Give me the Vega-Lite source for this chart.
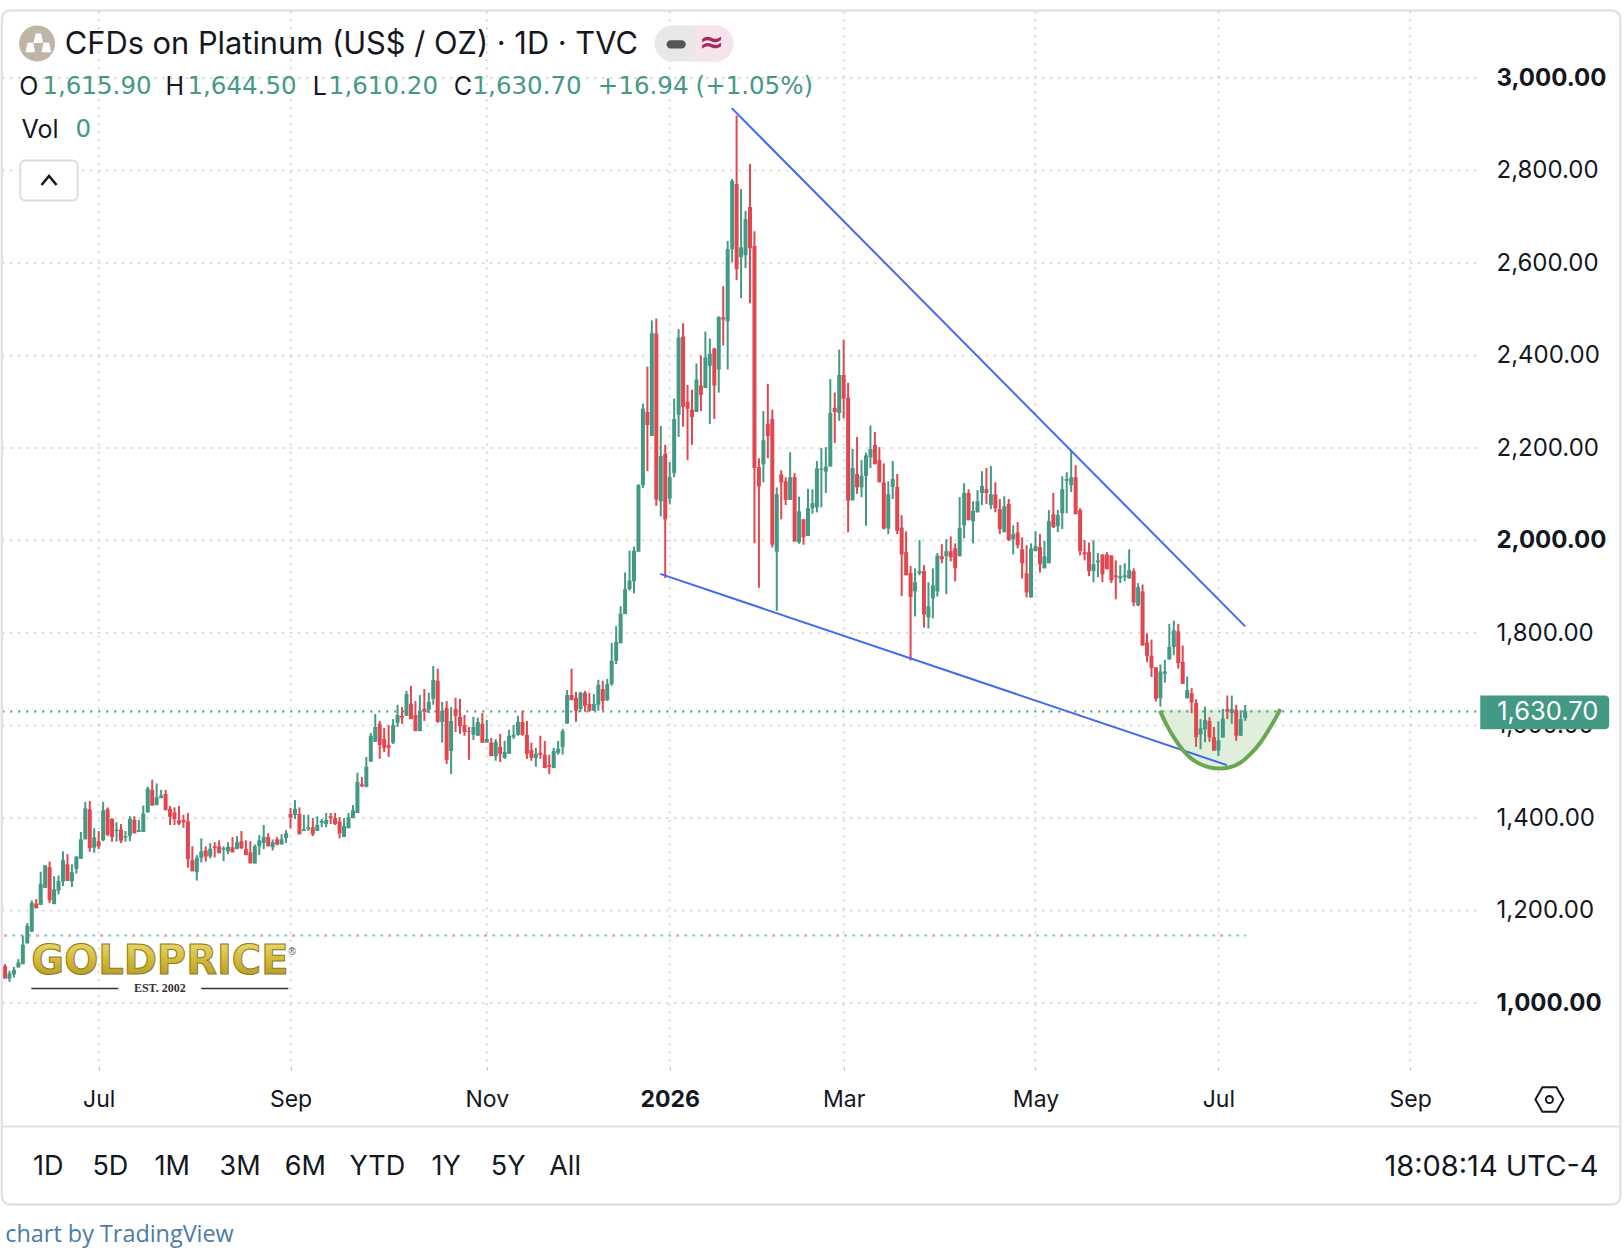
{
  "$schema": "https://vega.github.io/schema/vega-lite/v6.json",
  "width": 1624,
  "height": 1254,
  "autosize": "none",
  "padding": 0,
  "background": "white",
  "config": {"view": {"stroke": null}, "axis": {"grid": false, "title": null}},
  "datasets": {
    "ohlc": [
      {"n":0,"o":1080,"h":1084,"l":1053,"c":1053},{"n":1,"o":1053,"h":1070,"l":1046,"c":1064},{"n":2,"o":1062,"h":1078,"l":1055,"c":1072},{"n":3,"o":1077,"h":1095,"l":1077,"c":1088},
      {"n":4,"o":1084,"h":1146,"l":1084,"c":1126},{"n":5,"o":1129,"h":1173,"l":1129,"c":1167},{"n":6,"o":1154,"h":1222,"l":1154,"c":1217},{"n":7,"o":1215,"h":1225,"l":1205,"c":1205},
      {"n":8,"o":1212,"h":1284,"l":1212,"c":1258},{"n":9,"o":1249,"h":1298,"l":1249,"c":1298},{"n":10,"o":1294,"h":1306,"l":1216,"c":1222},{"n":11,"o":1214,"h":1274,"l":1214,"c":1246},
      {"n":12,"o":1243,"h":1276,"l":1235,"c":1264},{"n":13,"o":1263,"h":1328,"l":1253,"c":1309},{"n":14,"o":1300,"h":1322,"l":1264,"c":1264},{"n":15,"o":1263,"h":1300,"l":1251,"c":1283},
      {"n":16,"o":1290,"h":1317,"l":1280,"c":1317},{"n":17,"o":1312,"h":1370,"l":1312,"c":1354},{"n":18,"o":1354,"h":1435,"l":1354,"c":1421},{"n":19,"o":1419,"h":1437,"l":1327,"c":1335},
      {"n":20,"o":1336,"h":1378,"l":1325,"c":1358},{"n":21,"o":1350,"h":1372,"l":1333,"c":1339},{"n":22,"o":1352,"h":1435,"l":1350,"c":1417},{"n":23,"o":1419,"h":1423,"l":1361,"c":1364},
      {"n":24,"o":1398,"h":1400,"l":1349,"c":1359},{"n":25,"o":1372,"h":1391,"l":1349,"c":1375},{"n":26,"o":1375,"h":1387,"l":1346,"c":1351},{"n":27,"o":1358,"h":1372,"l":1349,"c":1361},
      {"n":28,"o":1361,"h":1404,"l":1350,"c":1398},{"n":29,"o":1396,"h":1404,"l":1367,"c":1367},{"n":30,"o":1370,"h":1396,"l":1370,"c":1374},{"n":31,"o":1370,"h":1427,"l":1370,"c":1410},
      {"n":32,"o":1412,"h":1468,"l":1412,"c":1464},{"n":33,"o":1461,"h":1483,"l":1427,"c":1427},{"n":34,"o":1428,"h":1475,"l":1428,"c":1445},{"n":35,"o":1443,"h":1461,"l":1443,"c":1449},
      {"n":36,"o":1452,"h":1461,"l":1417,"c":1417},{"n":37,"o":1420,"h":1426,"l":1385,"c":1403},{"n":38,"o":1412,"h":1423,"l":1385,"c":1398},{"n":39,"o":1395,"h":1426,"l":1385,"c":1388},
      {"n":40,"o":1396,"h":1407,"l":1379,"c":1391},{"n":41,"o":1393,"h":1411,"l":1293,"c":1311},{"n":42,"o":1309,"h":1339,"l":1285,"c":1285},{"n":43,"o":1283,"h":1320,"l":1265,"c":1314},
      {"n":44,"o":1314,"h":1356,"l":1304,"c":1328},{"n":45,"o":1330,"h":1339,"l":1306,"c":1317},{"n":46,"o":1317,"h":1346,"l":1313,"c":1334},{"n":47,"o":1339,"h":1348,"l":1315,"c":1335},
      {"n":48,"o":1339,"h":1352,"l":1324,"c":1324},{"n":49,"o":1332,"h":1339,"l":1307,"c":1335},{"n":50,"o":1328,"h":1348,"l":1322,"c":1338},{"n":51,"o":1337,"h":1359,"l":1326,"c":1326},
      {"n":52,"o":1333,"h":1361,"l":1333,"c":1348},{"n":53,"o":1350,"h":1372,"l":1333,"c":1335},{"n":54,"o":1333,"h":1352,"l":1320,"c":1320},{"n":55,"o":1326,"h":1350,"l":1302,"c":1302},
      {"n":56,"o":1302,"h":1343,"l":1302,"c":1339},{"n":57,"o":1339,"h":1363,"l":1320,"c":1352},{"n":58,"o":1346,"h":1385,"l":1333,"c":1359},{"n":59,"o":1359,"h":1367,"l":1339,"c":1339},
      {"n":60,"o":1337,"h":1354,"l":1330,"c":1348},{"n":61,"o":1354,"h":1359,"l":1341,"c":1343},{"n":62,"o":1343,"h":1365,"l":1343,"c":1354},{"n":63,"o":1357,"h":1374,"l":1346,"c":1367},
      {"n":64,"o":1409,"h":1422,"l":1378,"c":1401},{"n":65,"o":1407,"h":1439,"l":1398,"c":1420},{"n":66,"o":1409,"h":1423,"l":1365,"c":1365},{"n":67,"o":1372,"h":1407,"l":1372,"c":1376},
      {"n":68,"o":1376,"h":1407,"l":1372,"c":1380},{"n":69,"o":1380,"h":1400,"l":1361,"c":1365},{"n":70,"o":1372,"h":1404,"l":1372,"c":1385},{"n":71,"o":1390,"h":1398,"l":1380,"c":1394},
      {"n":72,"o":1387,"h":1411,"l":1380,"c":1396},{"n":73,"o":1404,"h":1411,"l":1387,"c":1400},{"n":74,"o":1400,"h":1411,"l":1385,"c":1387},{"n":75,"o":1393,"h":1402,"l":1356,"c":1367},
      {"n":76,"o":1359,"h":1400,"l":1359,"c":1383},{"n":77,"o":1378,"h":1411,"l":1378,"c":1402},{"n":78,"o":1400,"h":1428,"l":1400,"c":1417},{"n":79,"o":1411,"h":1498,"l":1411,"c":1478},
      {"n":80,"o":1473,"h":1489,"l":1467,"c":1469},{"n":81,"o":1467,"h":1532,"l":1467,"c":1511},{"n":82,"o":1522,"h":1584,"l":1522,"c":1578},{"n":83,"o":1565,"h":1625,"l":1565,"c":1597},
      {"n":84,"o":1604,"h":1610,"l":1528,"c":1558},{"n":85,"o":1571,"h":1595,"l":1543,"c":1552},{"n":86,"o":1558,"h":1601,"l":1532,"c":1552},{"n":87,"o":1563,"h":1614,"l":1560,"c":1601},
      {"n":88,"o":1606,"h":1645,"l":1597,"c":1623},{"n":89,"o":1621,"h":1640,"l":1604,"c":1617},{"n":90,"o":1621,"h":1675,"l":1621,"c":1668},{"n":91,"o":1647,"h":1686,"l":1614,"c":1614},
      {"n":92,"o":1623,"h":1653,"l":1588,"c":1588},{"n":93,"o":1588,"h":1666,"l":1588,"c":1632},{"n":94,"o":1636,"h":1679,"l":1610,"c":1630},{"n":95,"o":1634,"h":1671,"l":1627,"c":1651},
      {"n":96,"o":1658,"h":1729,"l":1645,"c":1699},{"n":97,"o":1697,"h":1723,"l":1606,"c":1608},{"n":98,"o":1608,"h":1651,"l":1563,"c":1632},{"n":99,"o":1638,"h":1653,"l":1517,"c":1526},
      {"n":100,"o":1545,"h":1640,"l":1495,"c":1610},{"n":101,"o":1636,"h":1660,"l":1586,"c":1621},{"n":102,"o":1619,"h":1658,"l":1582,"c":1599},{"n":103,"o":1601,"h":1623,"l":1578,"c":1586},
      {"n":104,"o":1588,"h":1597,"l":1526,"c":1586},{"n":105,"o":1580,"h":1619,"l":1569,"c":1597},{"n":106,"o":1578,"h":1617,"l":1578,"c":1608},{"n":107,"o":1604,"h":1627,"l":1563,"c":1563},
      {"n":108,"o":1563,"h":1612,"l":1563,"c":1571},{"n":109,"o":1563,"h":1573,"l":1534,"c":1534},{"n":110,"o":1534,"h":1571,"l":1524,"c":1565},{"n":111,"o":1554,"h":1582,"l":1521,"c":1539},
      {"n":112,"o":1530,"h":1567,"l":1528,"c":1543},{"n":113,"o":1539,"h":1591,"l":1539,"c":1578},{"n":114,"o":1576,"h":1601,"l":1571,"c":1580},{"n":115,"o":1580,"h":1621,"l":1578,"c":1608},
      {"n":116,"o":1608,"h":1632,"l":1578,"c":1580},{"n":117,"o":1580,"h":1610,"l":1528,"c":1539},{"n":118,"o":1547,"h":1563,"l":1524,"c":1530},{"n":119,"o":1530,"h":1552,"l":1511,"c":1539},
      {"n":120,"o":1541,"h":1578,"l":1528,"c":1537},{"n":121,"o":1537,"h":1567,"l":1508,"c":1508},{"n":122,"o":1515,"h":1537,"l":1495,"c":1511},{"n":123,"o":1508,"h":1552,"l":1508,"c":1545},
      {"n":124,"o":1541,"h":1567,"l":1537,"c":1550},{"n":125,"o":1554,"h":1593,"l":1537,"c":1588},{"n":126,"o":1604,"h":1677,"l":1604,"c":1666},{"n":127,"o":1666,"h":1723,"l":1655,"c":1655},
      {"n":128,"o":1660,"h":1673,"l":1608,"c":1632},{"n":129,"o":1636,"h":1673,"l":1630,"c":1671},{"n":130,"o":1671,"h":1675,"l":1630,"c":1643},{"n":131,"o":1647,"h":1671,"l":1630,"c":1632},
      {"n":132,"o":1632,"h":1668,"l":1632,"c":1647},{"n":133,"o":1645,"h":1699,"l":1632,"c":1688},{"n":134,"o":1679,"h":1697,"l":1632,"c":1653},{"n":135,"o":1655,"h":1701,"l":1653,"c":1690},
      {"n":136,"o":1690,"h":1779,"l":1686,"c":1740},{"n":137,"o":1740,"h":1815,"l":1733,"c":1781},{"n":138,"o":1778,"h":1858,"l":1778,"c":1842},{"n":139,"o":1841,"h":1931,"l":1841,"c":1895},
      {"n":140,"o":1895,"h":1978,"l":1892,"c":1914},{"n":141,"o":1912,"h":1987,"l":1886,"c":1978},{"n":142,"o":1976,"h":2122,"l":1976,"c":2120},{"n":143,"o":2120,"h":2296,"l":2114,"c":2285},
      {"n":144,"o":2278,"h":2376,"l":2150,"c":2250},{"n":145,"o":2226,"h":2476,"l":2226,"c":2448},{"n":146,"o":2448,"h":2480,"l":2075,"c":2089},{"n":147,"o":2085,"h":2248,"l":2052,"c":2183},
      {"n":148,"o":2188,"h":2207,"l":1919,"c":2046},{"n":149,"o":2091,"h":2170,"l":2078,"c":2137},{"n":150,"o":2146,"h":2307,"l":2137,"c":2263},{"n":151,"o":2272,"h":2457,"l":2224,"c":2439},
      {"n":152,"o":2441,"h":2470,"l":2246,"c":2289},{"n":153,"o":2300,"h":2337,"l":2174,"c":2285},{"n":154,"o":2283,"h":2326,"l":2207,"c":2267},{"n":155,"o":2278,"h":2383,"l":2278,"c":2348},
      {"n":156,"o":2335,"h":2400,"l":2280,"c":2315},{"n":157,"o":2330,"h":2452,"l":2330,"c":2396},{"n":158,"o":2378,"h":2437,"l":2252,"c":2404},{"n":159,"o":2415,"h":2417,"l":2263,"c":2335},
      {"n":160,"o":2370,"h":2485,"l":2320,"c":2483},{"n":161,"o":2483,"h":2550,"l":2422,"c":2478},{"n":162,"o":2474,"h":2648,"l":2370,"c":2630},{"n":163,"o":2630,"h":2782,"l":2602,"c":2778},
      {"n":164,"o":2771,"h":2919,"l":2563,"c":2587},{"n":165,"o":2613,"h":2760,"l":2524,"c":2634},{"n":166,"o":2617,"h":2713,"l":2589,"c":2695},{"n":167,"o":2721,"h":2814,"l":2513,"c":2632},
      {"n":168,"o":2637,"h":2669,"l":1994,"c":2157},{"n":169,"o":2159,"h":2178,"l":1898,"c":2117},{"n":170,"o":2165,"h":2280,"l":2126,"c":2217},{"n":171,"o":2252,"h":2339,"l":2178,"c":2226},
      {"n":172,"o":2263,"h":2283,"l":1985,"c":1991},{"n":173,"o":1976,"h":2115,"l":1848,"c":2100},{"n":174,"o":2143,"h":2152,"l":2046,"c":2126},{"n":175,"o":2128,"h":2137,"l":2077,"c":2088},
      {"n":176,"o":2088,"h":2191,"l":2088,"c":2137},{"n":177,"o":2137,"h":2146,"l":1998,"c":1998},{"n":178,"o":1996,"h":2095,"l":1993,"c":2063},{"n":179,"o":2046,"h":2046,"l":1991,"c":2007},
      {"n":180,"o":2010,"h":2112,"l":2010,"c":2070},{"n":181,"o":2070,"h":2111,"l":2058,"c":2081},{"n":182,"o":2072,"h":2172,"l":2061,"c":2156},{"n":183,"o":2153,"h":2200,"l":2072,"c":2156},
      {"n":184,"o":2149,"h":2202,"l":2103,"c":2160},{"n":185,"o":2160,"h":2349,"l":2160,"c":2276},{"n":186,"o":2287,"h":2320,"l":2211,"c":2278},{"n":187,"o":2276,"h":2413,"l":2259,"c":2358},
      {"n":188,"o":2358,"h":2434,"l":2264,"c":2307},{"n":189,"o":2309,"h":2341,"l":2018,"c":2086},{"n":190,"o":2087,"h":2198,"l":2087,"c":2157},{"n":191,"o":2144,"h":2224,"l":2101,"c":2115},
      {"n":192,"o":2115,"h":2174,"l":2094,"c":2140},{"n":193,"o":2140,"h":2190,"l":2032,"c":2184},{"n":194,"o":2180,"h":2249,"l":2157,"c":2198},{"n":195,"o":2207,"h":2235,"l":2165,"c":2165},
      {"n":196,"o":2174,"h":2202,"l":2126,"c":2126},{"n":197,"o":2126,"h":2167,"l":2024,"c":2026},{"n":198,"o":2026,"h":2128,"l":2014,"c":2100},{"n":199,"o":2116,"h":2172,"l":2090,"c":2133},
      {"n":200,"o":2116,"h":2144,"l":2014,"c":2021},{"n":201,"o":2028,"h":2055,"l":1880,"c":1970},{"n":202,"o":1975,"h":2020,"l":1925,"c":1925},{"n":203,"o":1930,"h":1945,"l":1741,"c":1878},
      {"n":204,"o":1890,"h":1940,"l":1836,"c":1910},{"n":205,"o":1929,"h":2001,"l":1925,"c":1934},{"n":206,"o":1934,"h":1947,"l":1812,"c":1840},{"n":207,"o":1834,"h":1910,"l":1810,"c":1858},
      {"n":208,"o":1875,"h":1940,"l":1832,"c":1903},{"n":209,"o":1890,"h":1973,"l":1879,"c":1968},{"n":210,"o":1966,"h":1992,"l":1951,"c":1960},{"n":211,"o":1966,"h":2003,"l":1884,"c":1977},
      {"n":212,"o":1977,"h":2009,"l":1955,"c":1964},{"n":213,"o":1983,"h":1994,"l":1912,"c":1940},{"n":214,"o":1966,"h":2094,"l":1966,"c":2027},{"n":215,"o":2033,"h":2124,"l":2005,"c":2103},
      {"n":216,"o":2103,"h":2111,"l":2044,"c":2044},{"n":217,"o":2042,"h":2085,"l":1994,"c":2064},{"n":218,"o":2061,"h":2109,"l":2061,"c":2085},{"n":219,"o":2103,"h":2150,"l":2077,"c":2118},
      {"n":220,"o":2111,"h":2157,"l":2079,"c":2103},{"n":221,"o":2077,"h":2161,"l":2068,"c":2100},{"n":222,"o":2100,"h":2126,"l":2061,"c":2070},{"n":223,"o":2068,"h":2090,"l":2014,"c":2025},
      {"n":224,"o":2018,"h":2096,"l":2018,"c":2074},{"n":225,"o":2079,"h":2090,"l":1999,"c":2001},{"n":226,"o":2003,"h":2033,"l":1970,"c":2014},{"n":227,"o":2018,"h":2040,"l":1983,"c":1990},
      {"n":228,"o":1981,"h":2007,"l":1918,"c":1951},{"n":229,"o":1929,"h":1990,"l":1877,"c":1888},{"n":230,"o":1877,"h":1994,"l":1877,"c":1983},{"n":231,"o":1977,"h":2020,"l":1977,"c":1988},
      {"n":232,"o":1986,"h":2014,"l":1931,"c":1949},{"n":233,"o":1940,"h":1999,"l":1940,"c":1966},{"n":234,"o":1951,"h":2066,"l":1951,"c":2042},{"n":235,"o":2057,"h":2103,"l":2027,"c":2029},
      {"n":236,"o":2031,"h":2066,"l":2018,"c":2055},{"n":237,"o":2059,"h":2139,"l":2025,"c":2111},{"n":238,"o":2129,"h":2148,"l":2059,"c":2133},{"n":239,"o":2120,"h":2194,"l":2105,"c":2137},
      {"n":240,"o":2137,"h":2163,"l":2057,"c":2057},{"n":241,"o":2066,"h":2070,"l":1968,"c":1977},{"n":242,"o":1975,"h":2001,"l":1957,"c":1970},{"n":243,"o":1975,"h":1996,"l":1923,"c":1934},
      {"n":244,"o":1934,"h":2001,"l":1910,"c":1949},{"n":245,"o":1953,"h":1973,"l":1921,"c":1957},{"n":246,"o":1970,"h":1970,"l":1910,"c":1927},{"n":247,"o":1970,"h":1975,"l":1938,"c":1938},
      {"n":248,"o":1968,"h":1968,"l":1908,"c":1914},{"n":249,"o":1925,"h":1957,"l":1873,"c":1921},{"n":250,"o":1918,"h":1947,"l":1908,"c":1923},{"n":251,"o":1921,"h":1951,"l":1912,"c":1925},
      {"n":252,"o":1918,"h":1981,"l":1918,"c":1936},{"n":253,"o":1934,"h":1940,"l":1858,"c":1866},{"n":254,"o":1860,"h":1908,"l":1858,"c":1899},{"n":255,"o":1890,"h":1905,"l":1773,"c":1773},
      {"n":256,"o":1780,"h":1799,"l":1737,"c":1751},{"n":257,"o":1751,"h":1786,"l":1705,"c":1724},{"n":258,"o":1726,"h":1726,"l":1652,"c":1658},{"n":259,"o":1659,"h":1732,"l":1641,"c":1717},
      {"n":260,"o":1712,"h":1742,"l":1693,"c":1717},{"n":261,"o":1743,"h":1820,"l":1743,"c":1770},{"n":262,"o":1770,"h":1827,"l":1752,"c":1806},{"n":263,"o":1804,"h":1820,"l":1723,"c":1735},
      {"n":264,"o":1738,"h":1773,"l":1690,"c":1690},{"n":265,"o":1659,"h":1706,"l":1659,"c":1677},{"n":266,"o":1670,"h":1681,"l":1627,"c":1650},{"n":267,"o":1649,"h":1657,"l":1554,"c":1575},
      {"n":268,"o":1581,"h":1614,"l":1549,"c":1594},{"n":269,"o":1592,"h":1641,"l":1564,"c":1612},{"n":270,"o":1610,"h":1618,"l":1565,"c":1575},{"n":271,"o":1575,"h":1597,"l":1546,"c":1546},
      {"n":272,"o":1546,"h":1609,"l":1534,"c":1568},{"n":273,"o":1574,"h":1636,"l":1574,"c":1615},{"n":274,"o":1636,"h":1665,"l":1614,"c":1630},{"n":275,"o":1627,"h":1665,"l":1604,"c":1636},
      {"n":276,"o":1633,"h":1645,"l":1567,"c":1578},{"n":277,"o":1578,"h":1633,"l":1578,"c":1614},{"n":278,"o":1615.9,"h":1644.5,"l":1610.2,"c":1630.7}
    ],
    "arc": [
      {"bar":258.9,"price":1632},{"bar":260.4,"price":1601.5},{"bar":262.3,"price":1570},{"bar":264.2,"price":1545},{"bar":266,"price":1528},
      {"bar":267.9,"price":1517},{"bar":270.1,"price":1509.4},{"bar":272.4,"price":1507.3},{"bar":274.6,"price":1510},{"bar":276.9,"price":1519.6},
      {"bar":279.1,"price":1537.7},{"bar":281.4,"price":1563},{"bar":283.6,"price":1595.7},{"bar":285.1,"price":1621},{"bar":285.9,"price":1635.5}
    ]
  },
  "layer": [
    {
      "data": {"values": [{"price":1000},{"price":1200},{"price":1400},{"price":1600},{"price":1800},{"price":2000},{"price":2200},{"price":2400},{"price":2600},{"price":2800},{"price":3000}]},
      "mark": {"type": "rule", "color": "#d6d6d6", "strokeWidth": 2, "strokeDash": [2, 6]},
      "encoding": {
        "y": {
          "field": "price", "type": "quantitative",
          "scale": {"domain": [457.5, 3168.8], "nice": false, "zero": false},
          "axis": {
            "orient": "right", "offset": -128, "title": null, "values": [1000,1200,1400,1600,1800,2000,2200,2400,2600,2800,3000],
            "format": ",.2f", "domain": false, "ticks": false, "grid": false, "labelAlign": "left", "labelPadding": 0,
            "labelFont": "Inter", "labelFontSize": 24, "labelColor": "#131722",
            "labelFontWeight": {"condition": {"test": "datum.value % 1000 === 0", "value": "bold"}, "value": "normal"},
            "labelOverlap": false, "labelBound": false, "labelFlush": false
          }
        },
        "x": {
          "datum": -0.6, "type": "quantitative",
          "scale": {"domain": [0, 361.8], "nice": false, "zero": false},
          "axis": {
            "orient": "bottom", "offset": -187, "title": null, "values": [21,64,108,149,188,231,272,315],
            "labelExpr": "datum.value == 149 ? '2026' : datum.value == 21 || datum.value == 272 ? 'Jul' : datum.value == 64 || datum.value == 315 ? 'Sep' : datum.value == 108 ? 'Nov' : datum.value == 188 ? 'Mar' : 'May'",
            "domain": false, "grid": false, "tickSize": 3, "tickColor": "#b8b8b8", "labelPadding": 18,
            "labelFont": "Inter", "labelFontSize": 23, "labelColor": "#131722",
            "labelFontWeight": {"condition": {"test": "datum.value == 149", "value": "bold"}, "value": "normal"},
            "labelOverlap": false, "labelBound": false, "labelFlush": false
          }
        },
        "x2": {"datum": 330.3}
      }
    },
    {
      "data": {"values": [{"bar":21},{"bar":64},{"bar":108},{"bar":149},{"bar":188},{"bar":231},{"bar":272},{"bar":315}]},
      "mark": {"type": "rule", "color": "#d6d6d6", "strokeWidth": 2, "strokeDash": [2, 6]},
      "encoding": {
        "x": {"field": "bar", "type": "quantitative"},
        "y": {"datum": 3144, "type": "quantitative"},
        "y2": {"datum": 858.6}
      }
    },
    {
      "data": {"name": "arc"},
      "mark": {"type": "area", "color": "#e0efdc", "interpolate": "monotone"},
      "encoding": {
        "x": {"field": "bar", "type": "quantitative"},
        "y": {"field": "price", "type": "quantitative"},
        "y2": {"datum": 1635}
      }
    },
    {
      "data": {"values": [{"price":1146}]},
      "mark": {"type": "rule", "color": "#82cdc2", "strokeWidth": 2, "strokeDash": [3, 5]},
      "encoding": {"y": {"field": "price", "type": "quantitative"}, "x": {"datum": -0.2, "type": "quantitative"}, "x2": {"datum": 278.2}}
    },
    {
      "data": {"values": [{"price":1146}]},
      "mark": {"type": "rule", "color": "#f0a3a3", "strokeWidth": 2, "strokeDash": [3, 29]},
      "encoding": {"y": {"field": "price", "type": "quantitative"}, "x": {"datum": -0.2, "type": "quantitative"}, "x2": {"datum": 278.2}}
    },
    {
      "data": {"values": [{"price":1630.7}]},
      "mark": {"type": "rule", "color": "#449985", "strokeWidth": 2, "strokeDash": [2, 6]},
      "encoding": {"y": {"field": "price", "type": "quantitative"}, "x": {"datum": -0.6, "type": "quantitative"}, "x2": {"datum": 330.3}}
    },
    {
      "data": {"name": "ohlc"},
      "mark": {"type": "rule", "strokeWidth": 2},
      "encoding": {
        "x": {"field": "n", "type": "quantitative"},
        "y": {"field": "l", "type": "quantitative"},
        "y2": {"field": "h"},
        "color": {"condition": {"test": "datum.c >= datum.o", "value": "#449985"}, "value": "#e2474f"}
      }
    },
    {
      "data": {"name": "ohlc"},
      "mark": {"type": "bar", "width": 4},
      "encoding": {
        "x": {"field": "n", "type": "quantitative"},
        "y": {"field": "o", "type": "quantitative"},
        "y2": {"field": "c"},
        "color": {"condition": {"test": "datum.c >= datum.o", "value": "#449985"}, "value": "#e2474f"}
      }
    },
    {
      "data": {"values": [{"bar":162.9,"price":2935,"line":"upper"},{"bar":278,"price":1814.5,"line":"upper"},{"bar":146.9,"price":1928,"line":"lower"},{"bar":273.9,"price":1514.5,"line":"lower"}]},
      "mark": {"type": "line", "color": "#4169f0", "strokeWidth": 2},
      "encoding": {
        "x": {"field": "bar", "type": "quantitative"},
        "y": {"field": "price", "type": "quantitative"},
        "detail": {"field": "line"}
      }
    },
    {
      "data": {"name": "arc"},
      "mark": {"type": "line", "color": "#6aa84f", "strokeWidth": 4, "interpolate": "monotone"},
      "encoding": {
        "x": {"field": "bar", "type": "quantitative"},
        "y": {"field": "price", "type": "quantitative"}
      }
    },
    {
      "data": {"values": [{"bar":-0.7,"bar2":362.1,"price":3146.2,"price2":564.5}]},
      "mark": {"type": "rect", "fill": null, "stroke": "#e2e2e2", "strokeWidth": 2.5, "cornerRadius": 8},
      "encoding": {
        "x": {"field": "bar", "type": "quantitative"}, "x2": {"field": "bar2"},
        "y": {"field": "price", "type": "quantitative"}, "y2": {"field": "price2"}
      }
    },
    {
      "data": {"values": [{"price":733}]},
      "mark": {"type": "rule", "color": "#e2e2e2", "strokeWidth": 2},
      "encoding": {"y": {"field": "price", "type": "quantitative"}, "x": {"datum": -0.7, "type": "quantitative"}, "x2": {"datum": 362.1}}
    },
    {
      "data": {"values": [{"bar":330.7,"bar2":359.6,"price":1665,"price2":1592}]},
      "mark": {"type": "rect", "color": "#449985", "cornerRadiusTopRight": 4, "cornerRadiusBottomRight": 4},
      "encoding": {
        "x": {"field": "bar", "type": "quantitative"}, "x2": {"field": "bar2"},
        "y": {"field": "price", "type": "quantitative"}, "y2": {"field": "price2"}
      }
    },
    {
      "data": {"values": [{"label":"1,630.70","bar":334.5,"price":1628.5}]},
      "mark": {"type": "text", "align": "left", "baseline": "middle", "font": "Inter", "fontSize": 25.5, "color": "white"},
      "encoding": {"x": {"field": "bar", "type": "quantitative"}, "y": {"field": "price", "type": "quantitative"}, "text": {"field": "label"}}
    },
    {
      "data": {"values": [{"bar":145.6,"bar2":163.3,"price":3113.7,"price2":3035.9}]},
      "mark": {"type": "rect", "color": "#e8e8e8", "cornerRadius": 18},
      "encoding": {
        "x": {"field": "bar", "type": "quantitative"}, "x2": {"field": "bar2"},
        "y": {"field": "price", "type": "quantitative"}, "y2": {"field": "price2"}
      }
    },
    {
      "data": {"values": [{"bar":154.5,"bar2":163.3,"price":3113.7,"price2":3035.9}]},
      "mark": {"type": "rect", "color": "#f6e4ec", "cornerRadiusTopRight": 18, "cornerRadiusBottomRight": 18},
      "encoding": {
        "x": {"field": "bar", "type": "quantitative"}, "x2": {"field": "bar2"},
        "y": {"field": "price", "type": "quantitative"}, "y2": {"field": "price2"}
      }
    },
    {
      "data": {"values": [{"bar":148.3,"bar2":152.6,"price":3082,"price2":3064}]},
      "mark": {"type": "rect", "color": "#555555", "cornerRadius": 4},
      "encoding": {
        "x": {"field": "bar", "type": "quantitative"}, "x2": {"field": "bar2"},
        "y": {"field": "price", "type": "quantitative"}, "y2": {"field": "price2"}
      }
    },
    {
      "data": {"values": [{"label":"≈","bar":158.4,"price":3074.8}]},
      "mark": {"type": "text", "align": "center", "baseline": "middle", "font": "DejaVu Sans", "fontSize": 30, "fontWeight": "bold", "color": "#a8285f"},
      "encoding": {"x": {"field": "bar", "type": "quantitative"}, "y": {"field": "price", "type": "quantitative"}, "text": {"field": "label"}}
    },
    {
      "data": {"values": [{"bar":7.2,"price":3074.8}]},
      "mark": {"type": "point", "shape": "circle", "filled": true, "size": 1296, "color": "#bfb5a7", "opacity": 1},
      "encoding": {"x": {"field": "bar", "type": "quantitative"}, "y": {"field": "price", "type": "quantitative"}}
    },
    {
      "data": {"values": [{"bar":7.47,"price":3086.3},{"bar":5.68,"price":3066.2},{"bar":9.26,"price":3066.2}]},
      "mark": {"type": "point", "shape": "M-.6,-1L.6,-1L1,1L-1,1Z", "filled": true, "size": 90, "color": "white", "opacity": 1},
      "encoding": {"x": {"field": "bar", "type": "quantitative"}, "y": {"field": "price", "type": "quantitative"}}
    },
    {
      "data": {"values": [{"label":"CFDs on Platinum (US$ / OZ) · 1D · TVC","bar":13.4,"price":3070.5}]},
      "mark": {"type": "text", "align": "left", "baseline": "middle", "font": "Inter", "fontSize": 30.8, "color": "#131722"},
      "encoding": {"x": {"field": "bar", "type": "quantitative"}, "y": {"field": "price", "type": "quantitative"}, "text": {"field": "label"}}
    },
    {
      "data": {"values": [
        {"label":"O","bar":3.2,"price":2979.7},{"label":"H","bar":36,"price":2979.7},{"label":"L","bar":69,"price":2979.7},{"label":"C","bar":100.6,"price":2979.7},
        {"label":"Vol","bar":3.7,"price":2886.7}
      ]},
      "mark": {"type": "text", "align": "left", "baseline": "middle", "font": "Inter", "fontSize": 25, "color": "#131722"},
      "encoding": {"x": {"field": "bar", "type": "quantitative"}, "y": {"field": "price", "type": "quantitative"}, "text": {"field": "label"}}
    },
    {
      "data": {"values": [
        {"label":"1,615.90","bar":8.4,"price":2979.7},{"label":"1,644.50","bar":40.9,"price":2979.7},{"label":"1,610.20","bar":72.6,"price":2979.7},{"label":"1,630.70","bar":104.8,"price":2979.7},
        {"label":"+16.94","bar":132.9,"price":2979.7},{"label":"(+1.05%)","bar":154.8,"price":2979.7},{"label":"0","bar":15.8,"price":2886.7}
      ]},
      "mark": {"type": "text", "align": "left", "baseline": "middle", "font": "DejaVu Sans", "fontSize": 24.5, "color": "#449985"},
      "encoding": {"x": {"field": "bar", "type": "quantitative"}, "y": {"field": "price", "type": "quantitative"}, "text": {"field": "label"}}
    },
    {
      "data": {"values": [{"bar":3.43,"bar2":16.3,"price":2821.8,"price2":2735.3}]},
      "mark": {"type": "rect", "fill": "white", "stroke": "#dddddd", "strokeWidth": 2, "cornerRadius": 5},
      "encoding": {
        "x": {"field": "bar", "type": "quantitative"}, "x2": {"field": "bar2"},
        "y": {"field": "price", "type": "quantitative"}, "y2": {"field": "price2"}
      }
    },
    {
      "data": {"values": [{"bar":9.87,"price":2778.6}]},
      "mark": {"type": "point", "shape": "M-1,.6L0,-.6L1,.6", "filled": false, "size": 225, "stroke": "#131722", "strokeWidth": 2.5, "opacity": 1},
      "encoding": {"x": {"field": "bar", "type": "quantitative"}, "y": {"field": "price", "type": "quantitative"}}
    },
    {
      "data": {"values": [{"label":"GOLDPRICE","bar":5.9,"price":1088.4}]},
      "mark": {
        "type": "text", "align": "left", "baseline": "middle", "font": "DejaVu Sans", "fontSize": 40, "fontWeight": "bold", "stroke": "#8f7a1e", "strokeWidth": 1,
        "color": {"x1": 0, "y1": 0, "x2": 0, "y2": 1, "gradient": "linear", "stops": [{"offset": 0, "color": "#efe07a"}, {"offset": 0.5, "color": "#d3b938"}, {"offset": 1, "color": "#a88f22"}]}
      },
      "encoding": {"x": {"field": "bar", "type": "quantitative"}, "y": {"field": "price", "type": "quantitative"}, "text": {"field": "label"}}
    },
    {
      "data": {"values": [{"bar":5.9,"bar2":25.4,"price":1031.4},{"bar":44,"bar2":63.5,"price":1031.4}]},
      "mark": {"type": "rule", "color": "#333333", "strokeWidth": 1.5},
      "encoding": {"x": {"field": "bar", "type": "quantitative"}, "x2": {"field": "bar2"}, "y": {"field": "price", "type": "quantitative"}}
    },
    {
      "data": {"values": [{"label":"EST. 2002","bar":34.7,"price":1033.6}]},
      "mark": {"type": "text", "align": "center", "baseline": "middle", "font": "Liberation Serif", "fontSize": 12, "fontWeight": "bold", "color": "#333333"},
      "encoding": {"x": {"field": "bar", "type": "quantitative"}, "y": {"field": "price", "type": "quantitative"}, "text": {"field": "label"}}
    },
    {
      "data": {"values": [{"label":"®","bar":64.4,"price":1111.5}]},
      "mark": {"type": "text", "align": "center", "baseline": "middle", "font": "Liberation Sans", "fontSize": 10, "color": "#555555"},
      "encoding": {"x": {"field": "bar", "type": "quantitative"}, "y": {"field": "price", "type": "quantitative"}, "text": {"field": "label"}}
    },
    {
      "data": {"values": [
        {"label":"1D","bar":6.3,"price":645},{"label":"5D","bar":19.6,"price":645},{"label":"1M","bar":33.5,"price":645},{"label":"3M","bar":48.1,"price":645},{"label":"6M","bar":62.7,"price":645},
        {"label":"YTD","bar":77.2,"price":645},{"label":"1Y","bar":95.6,"price":645},{"label":"5Y","bar":108.9,"price":645},{"label":"All","bar":122,"price":645}
      ]},
      "mark": {"type": "text", "align": "left", "baseline": "middle", "font": "Inter", "fontSize": 27, "color": "#131722"},
      "encoding": {"x": {"field": "bar", "type": "quantitative"}, "y": {"field": "price", "type": "quantitative"}, "text": {"field": "label"}}
    },
    {
      "data": {"values": [{"label":"18:08:14 UTC-4","bar":357.2,"price":645}]},
      "mark": {"type": "text", "align": "right", "baseline": "middle", "font": "Inter", "fontSize": 29, "color": "#131722"},
      "encoding": {"x": {"field": "bar", "type": "quantitative"}, "y": {"field": "price", "type": "quantitative"}, "text": {"field": "label"}}
    },
    {
      "data": {"values": [{"label":"chart by TradingView","bar":0.07,"price":497.5}]},
      "mark": {"type": "text", "align": "left", "baseline": "middle", "font": "Open Sans", "fontSize": 23.4, "color": "#4a7ba7"},
      "encoding": {"x": {"field": "bar", "type": "quantitative"}, "y": {"field": "price", "type": "quantitative"}, "text": {"field": "label"}}
    },
    {
      "data": {"values": [{"bar":346.2,"price":791.6}]},
      "mark": {"type": "point", "shape": "M-1,0L-.5,-.87L.5,-.87L1,0L.5,.87L-.5,.87Z", "filled": false, "size": 784, "stroke": "#131722", "strokeWidth": 2, "opacity": 1},
      "encoding": {"x": {"field": "bar", "type": "quantitative"}, "y": {"field": "price", "type": "quantitative"}}
    },
    {
      "data": {"values": [{"bar":346.2,"price":791.6}]},
      "mark": {"type": "point", "shape": "circle", "filled": false, "size": 50, "stroke": "#131722", "strokeWidth": 2, "opacity": 1},
      "encoding": {"x": {"field": "bar", "type": "quantitative"}, "y": {"field": "price", "type": "quantitative"}}
    }
  ]
}
